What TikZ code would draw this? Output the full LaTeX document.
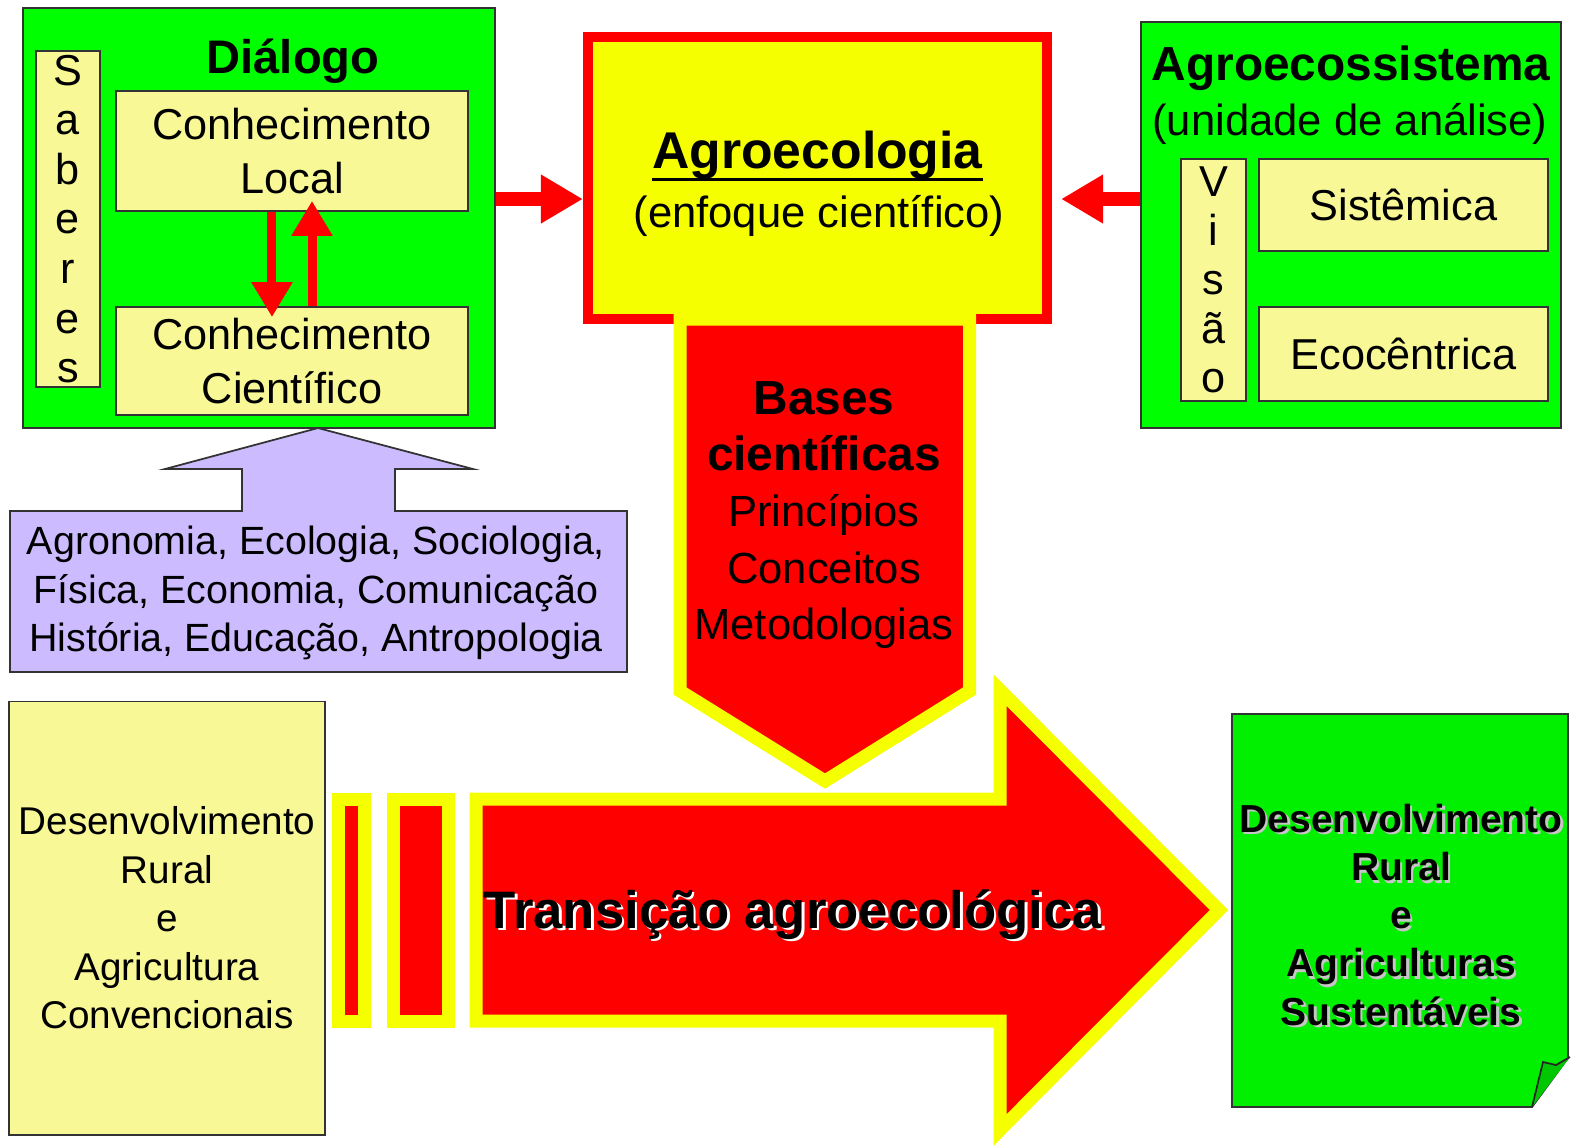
\documentclass[tikz,border=0pt]{standalone}
\usepackage{fontspec}
\setmainfont{Liberation Sans}
\usetikzlibrary{positioning,calc,arrows.meta}
\definecolor{verde}{RGB}{0,255,0}
\definecolor{verdefolha}{RGB}{0,240,0}
\definecolor{dobra}{RGB}{0,200,0}
\definecolor{amarelo}{RGB}{245,255,0}
\definecolor{creme}{RGB}{248,248,150}
\definecolor{vermelho}{RGB}{255,0,0}
\definecolor{lilas}{RGB}{204,188,255}
\newcommand{\tam}[2]{\fontsize{#1}{#2}\selectfont}
\newcommand{\sublinha}[1]{\setbox0\hbox{#1}\rlap{\rule[-3.8pt]{\wd0}{0.9pt}}\box0}
\newcommand{\sombra}[2]{\rlap{\kern0.7pt\raisebox{-0.7pt}{\color{#1}#2}}#2}
\tikzset{
	contorno/.style={draw=black!80, line width=0.5pt},
	caixa/.style={contorno, align=center},
	verdebox/.style={caixa, fill=verde},
	cremebox/.style={caixa, fill=creme},
	setinha/.style={draw=vermelho, line width=0.09cm, -{Triangle[width=0.39cm,length=0.35cm]}},
	setao/.style={draw=vermelho, line width=0.14cm, -{Triangle[width=0.46cm,length=0.42cm]}},
	faixa/.style={draw=amarelo, fill=vermelho, line width=0.13cm, line join=miter, miter limit=10},
}

\begin{document}
\begin{tikzpicture}[x=0.01cm, y=-0.01cm]
	\useasboundingbox (0,0) rectangle (1573,1147);
	\tikzstyle{every node}=[align=center, inner sep=0pt]

	\node[verdebox, minimum width=4.72cm, minimum height=4.2cm] (dialogo) at (259,218) {};
	\node[anchor=base, font=\tam{13.4}{16}\bfseries] (dialogotit) at (293,73) {Diálogo};
	\node[cremebox, minimum width=0.64cm, minimum height=3.36cm, font=\tam{12.3}{14.1}] (saberes) at (68,219) {S\\a\\b\\e\\r\\e\\s};
	\node[cremebox, minimum width=3.52cm, minimum height=1.2cm, font=\tam{12.3}{15.4}] (local) at (292,151) {Conhecimento\\Local};
	\node[cremebox, minimum width=3.52cm, minimum height=1.08cm, font=\tam{12.3}{15.4}] (cientifico) at (292,361) {Conhecimento\\Científico};

	\draw [setinha, shorten >=-0.11cm] ([xshift=-0.2cm]local.south) to ([xshift=-0.2cm]cientifico.north);
	\draw [setinha, shorten >=-0.11cm] ([xshift=0.2cm]cientifico.north) to ([xshift=0.2cm]local.south);

	\node[draw=vermelho, fill=amarelo, line width=0.1cm, minimum width=4.59cm, minimum height=2.82cm] (agro) at (817.5,178) {};
	\node[anchor=base, font=\tam{14.7}{17}\bfseries] (agrotit) at (817.5,168) {\sublinha{Agroecologia}};
	\node[anchor=base, font=\tam{12.4}{15}] (agrosub) at (819,227) {(enfoque científico)};

	\draw[faixa] (680,319) -- (969.5,319) -- (969.5,691) -- (825,781) -- (680,691) -- cycle;
	\node[font=\tam{12.4}{16}] (bases) at (824,515) {{\bfseries\tam{13.6}{16}Bases}\\{\bfseries\tam{13.6}{16}científicas}\\Princípios\\Conceitos\\Metodologias};

	\node[verdebox, minimum width=4.2cm, minimum height=4.06cm] (agrossistema) at (1351,225) {};
	\node[anchor=base, font=\tam{13.6}{16}\bfseries] (agrossistit) at (1351,80) {Agroecossistema};
	\node[anchor=base, font=\tam{12.4}{15}] (unidade) at (1350,135) {(unidade de análise)};
	\node[cremebox, minimum width=0.65cm, minimum height=2.42cm, font=\tam{12.3}{13.9}] (visao) at (1213.5,280) {V\\i\\s\\ã\\o};
	\node[cremebox, minimum width=2.89cm, minimum height=0.92cm, font=\tam{12.3}{15}] (sistemica) at (1403.5,205) {Sistêmica};
	\node[cremebox, minimum width=2.89cm, minimum height=0.94cm, font=\tam{12.3}{15}] (ecocentrica) at (1403.5,354) {Ecocêntrica};

	\coordinate (nivel) at (0,199);
	\draw [setao] (dialogo.east |- nivel) to (agro.west |- nivel);
	\draw [setao, shorten >=0.09cm] (agrossistema.west |- nivel) to (agro.east |- nivel);

	\draw[contorno, fill=lilas] (10,511) -- (242,511) -- (242,469) -- (165,469) -- (318,428) -- (473,469) -- (395,469) -- (395,511) -- (627,511) -- (627,672) -- (10,672) -- cycle;
	\node[font=\tam{11.2}{13.8}] (disciplinas) at (316,593) {Agronomia, Ecologia, Sociologia,\\Física, Economia, Comunicação\\História, Educação, Antropologia};

	\node[cremebox, minimum width=3.16cm, minimum height=4.33cm, font=\tam{11}{13.8}] (convencional) at (167,918) {Desenvolvimento\\Rural\\e\\Agricultura\\Convencionais};

	\draw[faixa] (338.5,799) rectangle (364.5,1021);
	\draw[faixa] (393.5,799) rectangle (448.5,1021);
	\draw[faixa] (476,799) -- (1000,799) -- (1000,690) -- (1219,910) -- (1000,1130) -- (1000,1021) -- (476,1021) -- cycle;
	\node[anchor=base, font=\tam{15}{18}\bfseries] (transicao) at (793,928) {\sombra{white}{Transição agroecológica}};

	\draw[contorno, fill=verdefolha] (1232,714) -- (1568,714) -- (1568,1058) -- (1532,1107) -- (1232,1107) -- cycle;
	\fill[dobra] (1532,1107) -- (1543,1062) -- (1556,1065) -- (1570,1057) -- cycle;
	\draw[black!85, line width=0.5pt] (1532,1107) -- (1543,1062) -- (1556,1065) -- (1570,1057);
	\node[font=\tam{11.1}{13.7}\bfseries] (sustentavel) at (1401,916) {\sombra{gray!45}{Desenvolvimento}\\\sombra{gray!45}{Rural}\\\sombra{gray!45}{e}\\\sombra{gray!45}{Agriculturas}\\\sombra{gray!45}{Sustentáveis}};
\end{tikzpicture}
\end{document}
